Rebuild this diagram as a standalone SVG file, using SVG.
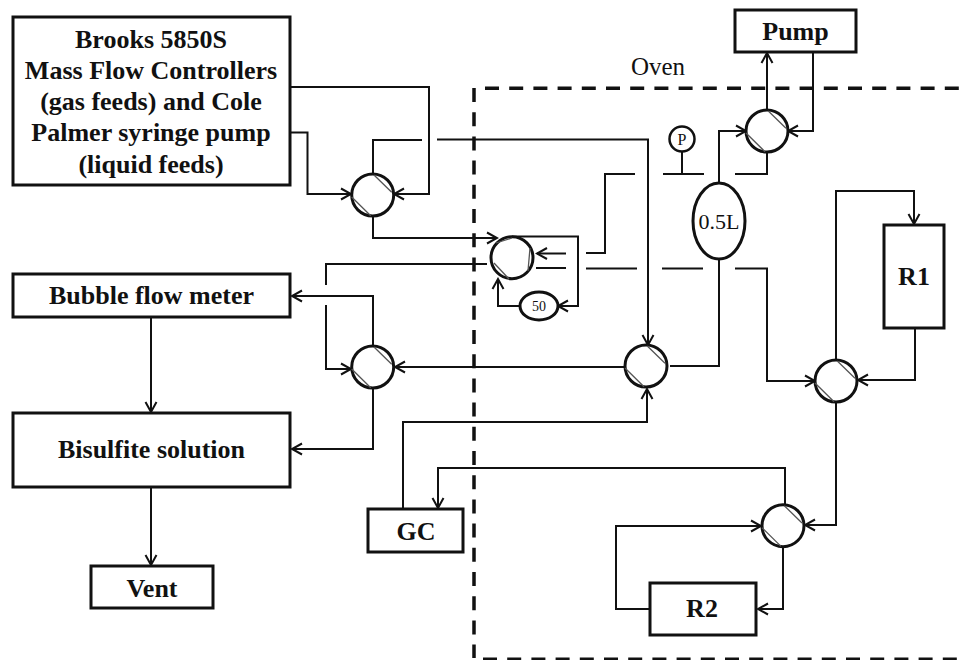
<svg xmlns="http://www.w3.org/2000/svg" width="961" height="660" viewBox="0 0 961 660">
<style>
text{font-family:"Liberation Serif","Times New Roman",serif;fill:#111;text-anchor:middle}
.b{font-weight:bold;font-size:26px}
.box{fill:#fff;stroke:#111;stroke-width:3}
.v{fill:#fff;stroke:#111;stroke-width:3}
.h{fill:none;stroke:#555;stroke-width:1.3}
.c path{fill:none;stroke:#111;stroke-width:2}
.a{marker-end:url(#arr)}
.d{fill:none;stroke:#111;stroke-width:3.500;stroke-dasharray:14 10.200}
</style>
<defs>
<marker id="arr" viewBox="-12 -7 14 14" markerWidth="14" markerHeight="14" refX="0" refY="0" orient="auto" markerUnits="userSpaceOnUse">
<path d="M-10,-5.500 L0,0 L-10,5.500" fill="none" stroke="#111" stroke-width="2"/>
</marker>
<g id="valve">
<circle r="21" class="v"/>
<path class="h" d="M1.300,-20 L19,-2.700 M-21,2 L-2,20.700"/>
</g>
</defs>
<rect width="961" height="660" fill="#fff"/>
<g id="oven">
<path class="d" d="M485,88.300 H961"/>
<path class="d" d="M474,88 V658"/>
<path class="d" d="M483,659.300 H961"/>
<text x="658" y="75" font-size="25">Oven</text>
</g>
<g id="connectors" class="c">
<path class="a" d="M291,132.500 H307.500 V194 H351"/>
<path class="a" d="M291,87 H429 V194 H394"/>
<path d="M373,174 V140 H422"/>
<path class="a" d="M437,139.500 H648 V345"/>
<path class="a" d="M373,216 V238 H497"/>
<path class="a" d="M512,236.500 H578 V306 H558"/>
<path class="a" d="M520,306 H498 V279"/>
<path class="a" d="M566,253.500 H537"/>
<path d="M586,253 H605 V174 H635"/>
<path d="M663,174 H704 M682,152 V174"/>
<path d="M735,174 H767 V152"/>
<path d="M536,268 H566 M586,268.500 H637 M662,268.500 H703"/>
<path class="a" d="M735,268.500 H767 V381 H815"/>
<path class="a" d="M719,183 V131 H746"/>
<path class="a" d="M767,110 V53"/>
<path class="a" d="M813,52 V131 H788"/>
<path d="M719,259 V366 H670"/>
<path class="a" d="M625,367 H395"/>
<path class="a" d="M373,346 V296 H292"/>
<path class="a" d="M373,388 V449 H292"/>
<path d="M487,264 H326 V285"/>
<path class="a" d="M326,305 V369 H351"/>
<path class="a" d="M151,317 V412"/>
<path class="a" d="M151,487 V565"/>
<path class="a" d="M403,509 V422 H647 V389"/>
<path class="a" d="M785,505 V468 H438 V508"/>
<path class="a" d="M836,402 V525 H805"/>
<path class="a" d="M836,360 V191 H914 V224"/>
<path class="a" d="M915,328 V380 H858"/>
<path class="a" d="M650,609 H616 V526 H761"/>
<path class="a" d="M783,547 V609 H758"/>
</g>
<g id="brooks"><rect class="box" x="13" y="17" width="277" height="168"/>
<text class="b" x="151" y="47.500">Brooks 5850S</text>
<text class="b" x="151" y="78.500">Mass Flow Controllers</text>
<text class="b" x="151" y="110">(gas feeds) and Cole</text>
<text class="b" x="151" y="141">Palmer syringe pump</text>
<text class="b" x="151" y="172.500">(liquid feeds)</text></g>
<g id="bubble"><rect class="box" x="13" y="274" width="277" height="43"/><text class="b" x="151.500" y="304">Bubble flow meter</text></g>
<g id="bisulfite"><rect class="box" x="13" y="413" width="277" height="74"/><text class="b" x="151.500" y="458">Bisulfite solution</text></g>
<g id="vent"><rect class="box" x="91" y="566" width="122" height="42"/><text class="b" x="152" y="597">Vent</text></g>
<g id="gc"><rect class="box" x="368" y="509" width="95" height="43"/><text class="b" x="416" y="540">GC</text></g>
<g id="pump"><rect class="box" x="735" y="10" width="121" height="42"/><text class="b" x="795.500" y="40">Pump</text></g>
<g id="r1"><rect class="box" x="884" y="225" width="60" height="103"/><text class="b" x="914" y="285">R1</text></g>
<g id="r2"><rect class="box" x="650" y="583" width="106" height="52"/><text class="b" x="702" y="617">R2</text></g>
<g id="valve-a"><use href="#valve" x="372.700" y="195"/></g>
<g id="valve-b"><circle cx="512" cy="257.700" r="21" class="v"/><path class="h" d="M496,243 L512,238 M530,248 L528,271 M494,263 L509,279"/></g>
<g id="valve-c"><use href="#valve" x="372.700" y="367"/></g>
<g id="valve-d"><use href="#valve" x="646" y="366"/></g>
<g id="valve-e"><use href="#valve" x="767" y="131"/></g>
<g id="valve-f"><use href="#valve" x="836" y="381"/></g>
<g id="valve-g"><use href="#valve" x="783" y="525.700"/></g>
<g id="loop-50"><ellipse class="v" cx="539" cy="306" rx="19" ry="14"/><text x="539" y="311" font-size="14">50</text></g>
<g id="loop-05"><ellipse class="v" cx="719" cy="221" rx="26" ry="38"/><text x="719" y="229" font-size="22">0.5L</text></g>
<g id="gauge"><circle cx="682" cy="139" r="12.500" fill="#fff" stroke="#111" stroke-width="2.500"/><text x="682" y="145" font-size="16">P</text></g>
</svg>
